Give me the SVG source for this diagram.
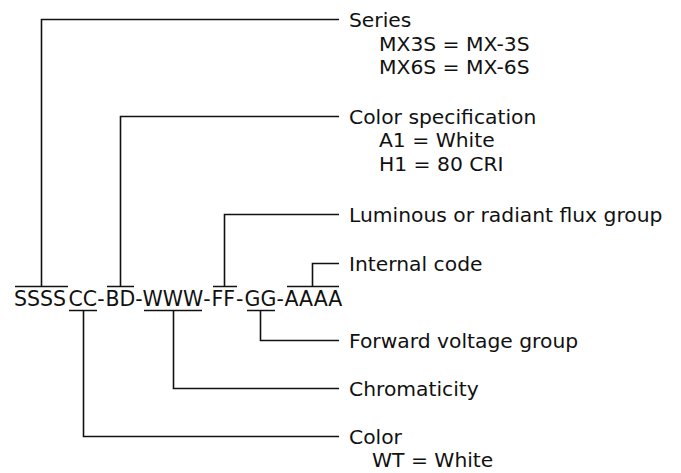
<svg xmlns="http://www.w3.org/2000/svg" width="681" height="473" viewBox="0 0 681 473">
<style>
text{font-family:"DejaVu Sans","Liberation Sans",sans-serif;font-size:20.3px;fill:#111}
.code{font-size:20.5px}
.ln{fill:none;stroke:#111;stroke-width:1.6}
</style>
<rect width="681" height="473" fill="#fff"/>
<g id="connectors" class="ln">
<path d="M41.5,286.5V19.5H339"/>
<path d="M120.5,286.5V116.5H339"/>
<path d="M224.5,286.5V214.5H339"/>
<path d="M312.5,286.5V263.5H339"/>
<path d="M260.5,310.5V340.5H339"/>
<path d="M173.5,310.5V388.5H339"/>
<path d="M83.5,310.5V436.5H339"/>
</g>
<g id="code">
<g class="ln">
<path d="M15,286.5H68M107,286.5H134M213,286.5H237M287,286.5H339"/>
<path d="M69,310.5H97M144,310.5H202M247,310.5H275"/>
</g>
<text class="code" y="306"><tspan x="14">SSSS</tspan><tspan x="68.5">CC</tspan><tspan x="97.3">-</tspan><tspan x="105.5">BD</tspan><tspan x="135.3">-</tspan><tspan x="142.5">WWW</tspan><tspan x="203.3">-</tspan><tspan x="211.5">FF</tspan><tspan x="236">-</tspan><tspan x="244.5">GG</tspan><tspan x="276.5">-</tspan><tspan x="284.5">AAAA</tspan></text>
</g>
<g id="series">
<text x="349" y="26.8">Series</text>
<text x="379" y="50.8">MX3S = MX-3S</text>
<text x="379" y="74.3">MX6S = MX-6S</text>
</g>
<g id="color-spec">
<text x="349" y="123.8">Color specification</text>
<text x="379" y="147.3">A1 = White</text>
<text x="379" y="170.8">H1 = 80 CRI</text>
</g>
<g id="flux">
<text x="349" y="221.8">Luminous or radiant flux group</text>
</g>
<g id="internal">
<text x="349" y="270.8">Internal code</text>
</g>
<g id="forward">
<text x="349" y="347.8">Forward voltage group</text>
</g>
<g id="chromaticity">
<text x="349" y="395.8">Chromaticity</text>
</g>
<g id="color">
<text x="349" y="443.8">Color</text>
<text x="372" y="467.3">WT = White</text>
</g>
</svg>
